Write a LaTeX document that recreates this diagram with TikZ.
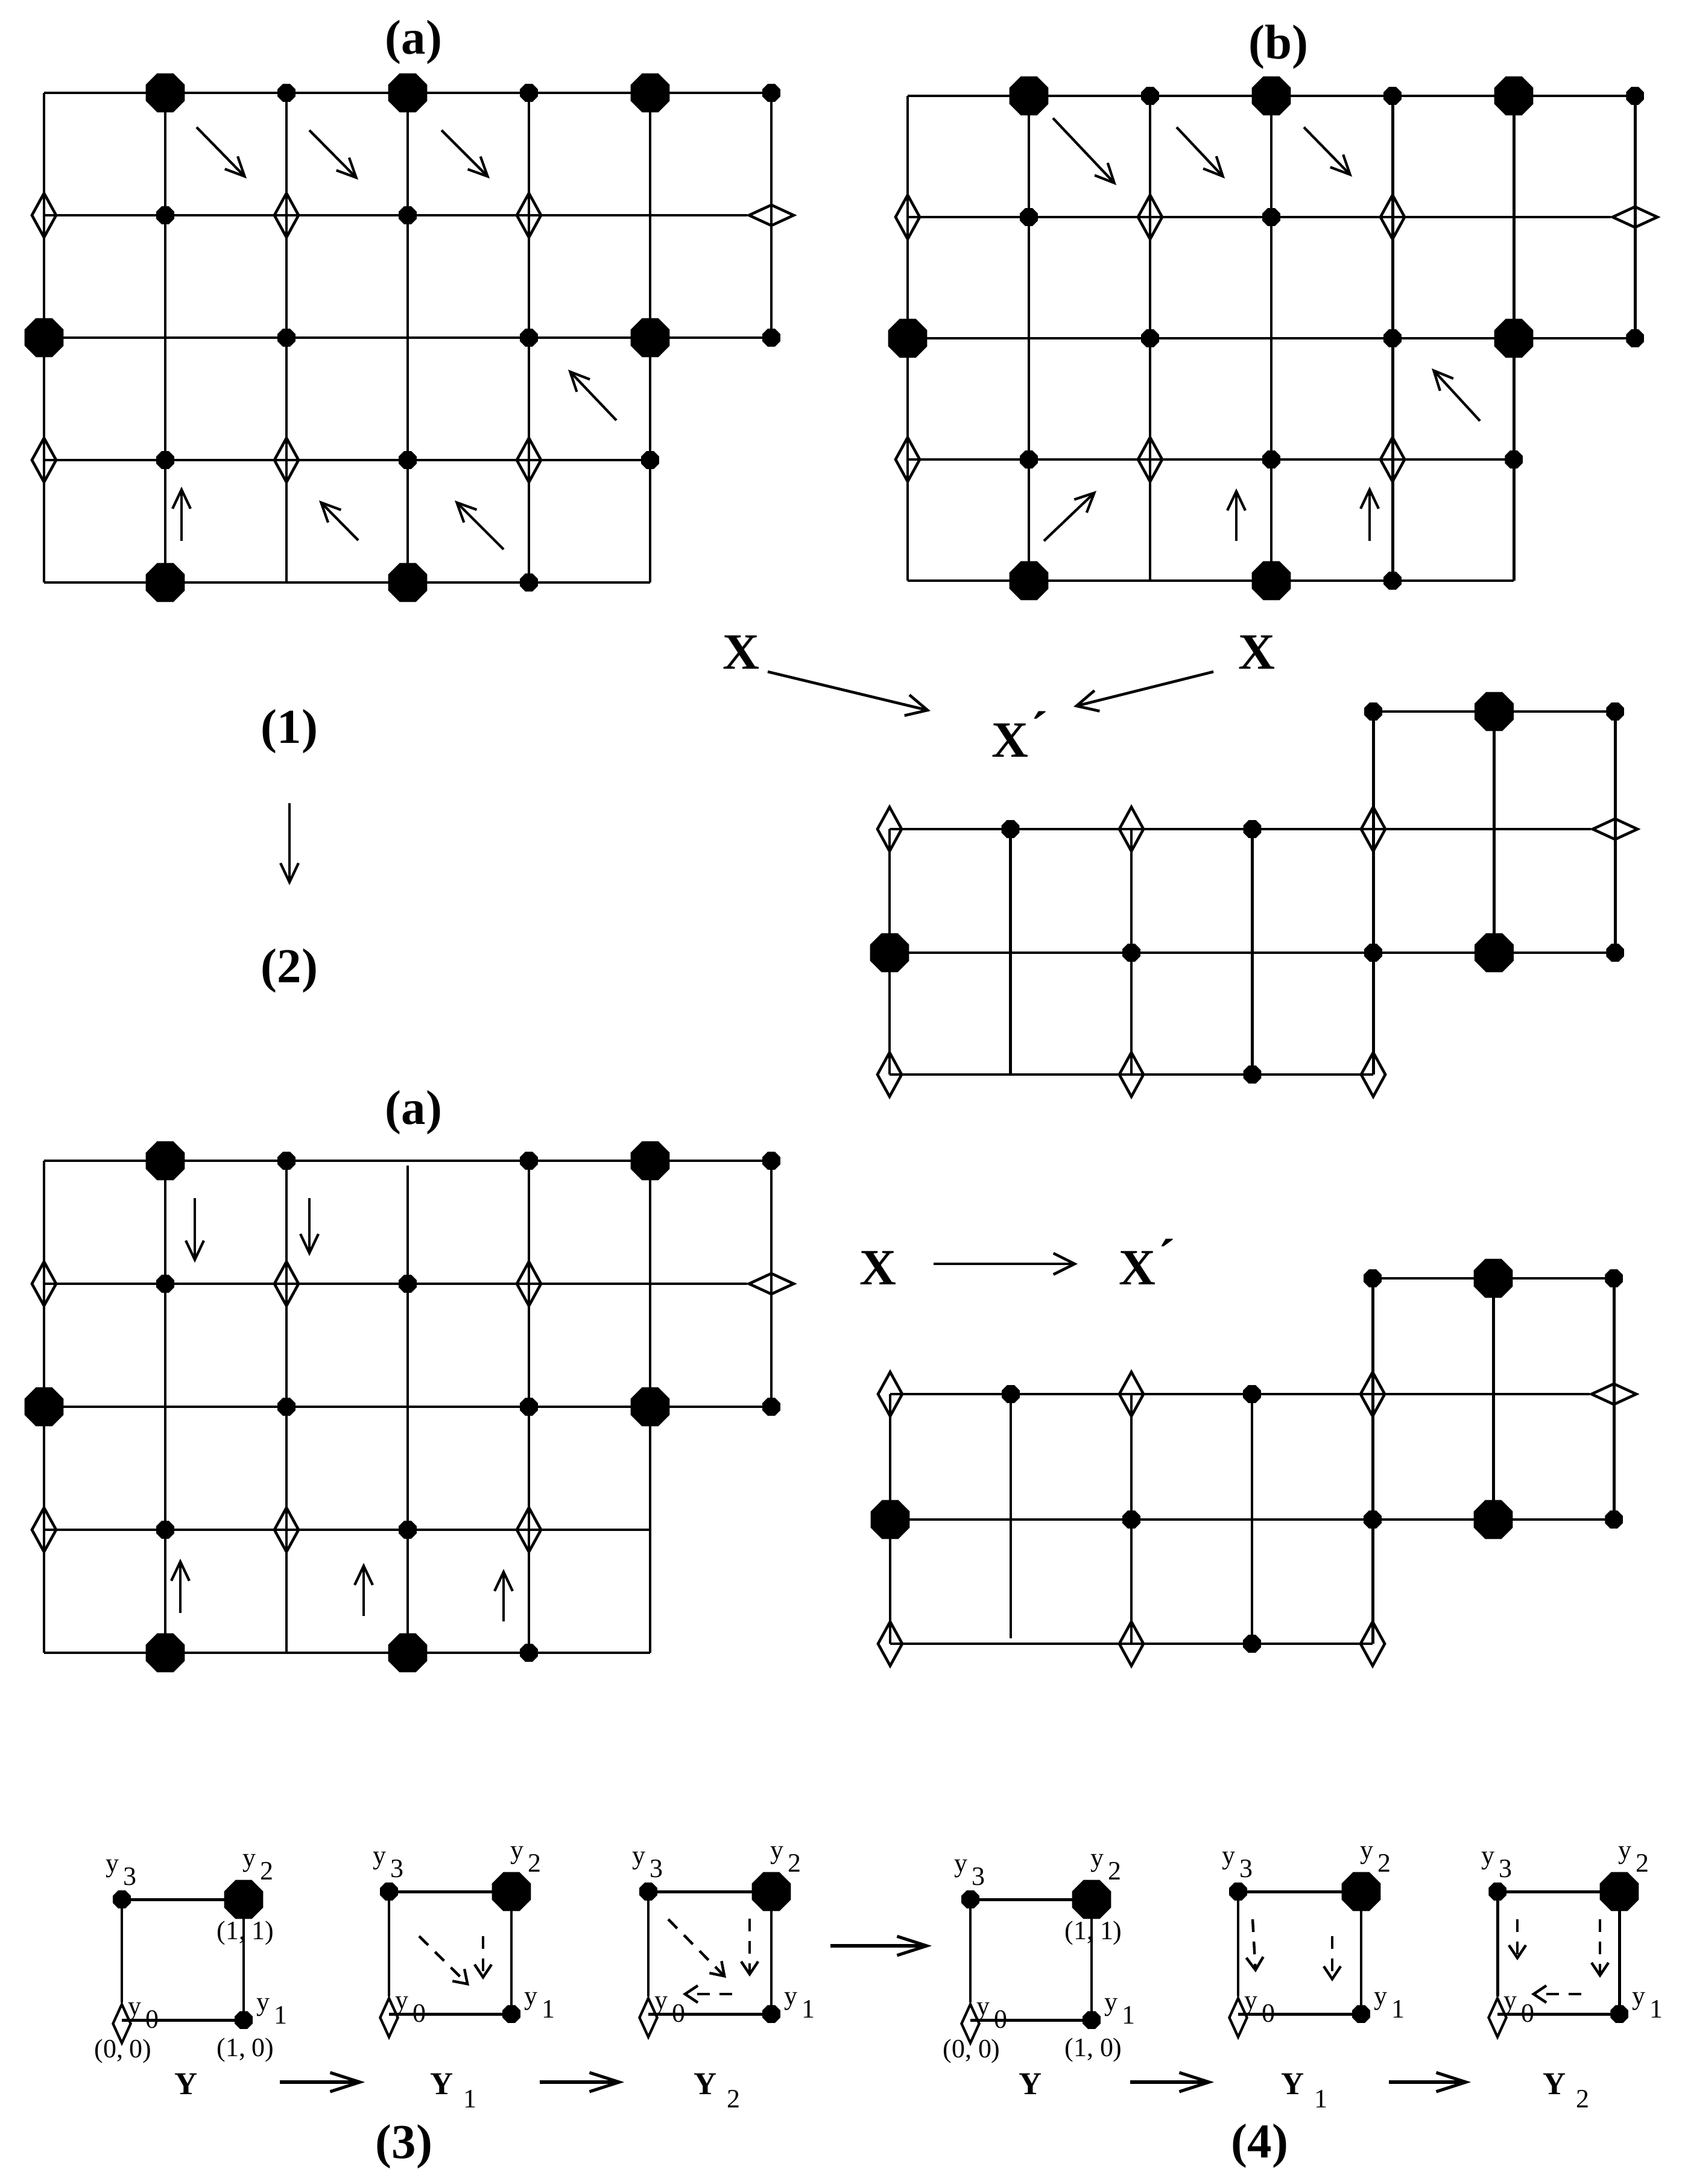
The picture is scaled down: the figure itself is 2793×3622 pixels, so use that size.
\documentclass[tikz,border=0pt]{standalone}
\usepackage{fontspec}
\setmainfont{Liberation Serif}
\usetikzlibrary{arrows.meta,shapes.geometric}
\newcommand{\ylab}[1]{y\kern2pt\raisebox{-6.5pt}{#1}}
\newcommand{\Ysub}[1]{{\fontsize{15}{18}\selectfont\bfseries Y}\kern4.8pt\raisebox{-6.3pt}{#1}}
\newcommand{\Xp}{X\kern1pt\raisebox{0.2em}{´}}
\tikzset{
 latline/.style={line width=1.4pt},
 bigdot/.style={regular polygon, regular polygon sides=8, fill=black, draw=none, inner sep=0pt, minimum size=0.70cm},
 smdot/.style={regular polygon, regular polygon sides=8, fill=black, draw=none, inner sep=0pt, minimum size=0.32cm},
 vdia/.style={diamond, draw=black, line width=1.3pt, inner sep=0pt, minimum width=0.42cm, minimum height=0.75cm},
 hdia/.style={diamond, draw=black, line width=1.3pt, inner sep=0pt, minimum width=0.76cm, minimum height=0.36cm},
 vdias/.style={diamond, draw=black, line width=1.2pt, inner sep=0pt, minimum width=0.31cm, minimum height=0.66cm},
 latarrow/.style={line width=1.2pt, -{Straight Barb[length=9pt,width=8.5pt]}},
 xarrow/.style={line width=1.3pt, -{Straight Barb[length=10pt,width=10pt]}},
 yarrow/.style={line width=1.45pt, -{Straight Barb[length=14pt,width=9pt]}},
 darrow/.style={line width=1.25pt, dash pattern=on 6pt off 4.5pt, -{Straight Barb[length=6pt,width=8pt]}},
 biglab/.style={font=\fontsize{23}{27}\selectfont\bfseries, inner sep=0pt},
 xlab/.style={font=\fontsize{24}{28}\selectfont\bfseries, inner sep=0pt},
 Ylab/.style={font=\fontsize{15}{18}\selectfont\bfseries, inner sep=0pt},
 smlab/.style={font=\fontsize{12.5}{15}\selectfont, inner sep=0pt},
}
\newcommand{\latmarks}[5]{%
  \foreach \p in {#2} {\node[bigdot] (m#1\p) at (#1\p) {};}
  \foreach \p in {#3} {\node[smdot] (m#1\p) at (#1\p) {};}
  \foreach \p in {#4} {\node[vdia] (m#1\p) at (#1\p) {};}
  \foreach \p in {#5} {\node[hdia] (m#1\p) at (#1\p) {};}
}
\newcommand{\toplines}[2]{%
  \draw[latline] (#100)--(#160) (#101)--(m#161.west) (#102)--(#162) (#103)--(#153) (#104)--(#154)
   (#110)--(#114) (#120)--(#124) (#140)--(#144) (#150)--(#154) (#160)--(#162);
  \draw[latline, shorten <=#2] (#100)--(#104) (#130)--(#134);
}
\newcommand{\midlines}[2]{%
  \draw[latline] (#140)--(#160) (#101)--(m#161.west) (#102)--(#162) (#103)--(#143)
   (#101)--(#103) (#121)--(#123) (#131)--(#133) (#140)--(#143) (#150)--(#152) (#160)--(#162);
  \draw[latline, shorten >=#2] (#111)--(#113);
}
\newcommand{\unitsq}[5]{%
  \node[smdot] (#1y3) at (#2,#4) {};
  \node[bigdot] (#1y2) at (#3,#4) {};
  \node[smdot] (#1y1) at (#3,#5) {};
  \node[vdias] (#1y0) at (#2,#5+6) {};
  \coordinate (#1bl) at (#2,#5);
  \draw[latline] (#1y3.center)--(#1y2.center)--(#1y1.center) (#1bl)--(#1y1.center) (#1y3.center)--(#1y0.north);
  \node[smlab, anchor=base west] (#1t3) at (#2-27,#4-46) {\ylab{3}};
  \node[smlab, anchor=base west] (#1t2) at (#3-2,#4-55) {\ylab{2}};
  \node[smlab, anchor=base west] (#1t0) at (#2+10,#5-9) {\ylab{0}};
  \node[smlab, anchor=base west] (#1t1) at (#3+21,#5-16) {\ylab{1}};
}
\newcommand{\coordlabs}[5]{%
  \node[smlab] (#1c11) at (#3+3,#4+56) {(1, 1)};
  \node[smlab] (#1c00) at (#2+2,#5+52) {(0, 0)};
  \node[smlab] (#1c10) at (#3+3,#5+50) {(1, 0)};
}
\begin{document}
\begin{tikzpicture}[x=0.01cm,y=-0.01cm]
\useasboundingbox (0,0) rectangle (2793,3622);
% grid coordinates
\foreach \c in {0,...,6}{\foreach \r in {0,...,4}{
  \coordinate (A\c\r) at ({73+201*\c},{154+203*\r});
  \coordinate (B\c\r) at ({1505+201*\c},{159+201*\r});
  \coordinate (C\c\r) at ({73+201*\c},{1925+204*\r});
}}
\foreach \c in {0,...,6}{\foreach \r/\yM/\yL in {0/1180/2120,1/1375/2312,2/1580/2520,3/1782/2726}{
  \coordinate (M\c\r) at ({1475+200.5*\c},\yM);
  \coordinate (L\c\r) at ({1476+200*\c},\yL);
}}
% top (a)
\latmarks{A}{10,30,50,02,52,14,34}{20,40,60,11,31,22,42,62,13,33,53,44}{01,21,41,03,23,43}{61}
\toplines{A}{0pt}
\draw[latarrow] (326,211)--(409,296);
\draw[latarrow] (513,216)--(594,298);
\draw[latarrow] (732,216)--(812,296);
\draw[latarrow] (1022,697)--(942,613);
\draw[latarrow] (301,897)--(301,807);
\draw[latarrow] (594,896)--(529,830);
\draw[latarrow] (835,911)--(754,830);
\node[biglab] (la) at (686,70) {(a)};
% top (b)
\latmarks{B}{10,30,50,02,52,14,34}{20,40,60,11,31,22,42,62,13,33,53,44}{01,21,41,03,23,43}{61}
\toplines{B}{0pt}
\draw[latarrow] (1746,196)--(1851,307);
\draw[latarrow] (1951,211)--(2031,296);
\draw[latarrow] (2162,211)--(2242,293);
\draw[latarrow] (2454,698)--(2374,611);
\draw[latarrow] (1731,897)--(1818,814);
\draw[latarrow] (2050,897)--(2050,810);
\draw[latarrow] (2271,897)--(2271,807);
\node[biglab] (lb) at (2120,78) {(b)};
% X, X' (middle)
\node[xlab, anchor=base] (XL) at (1229,1109) {X};
\node[xlab, anchor=base] (XR) at (2084,1109) {X};
\node[xlab, anchor=base west] (XP) at (1644,1255) {\Xp};
\coordinate (xa1) at (1273,1114); \coordinate (xa2) at (1543,1179);
\coordinate (xb1) at (2012,1114); \coordinate (xb2) at (1780,1172);
\draw[xarrow] (xa1)--(xa2);
\draw[xarrow] (xb1)--(xb2);
% middle lattice
\latmarks{M}{50,02,52}{40,60,11,31,22,42,62,33}{01,21,41,03,23,43}{61}
\midlines{M}{0pt}
% (1) -> (2)
\node[biglab] (l1) at (480,1213) {(1)};
\node[biglab] (l2) at (480,1610) {(2)};
\coordinate (d1) at (480,1332); \coordinate (d2) at (480,1468);
\draw[latarrow] (d1)--(d2);
% lower (a)
\latmarks{C}{10,50,02,52,14,34}{20,40,60,11,31,22,42,62,13,33,44}{01,21,41,03,23,43}{61}
\toplines{C}{2.3pt}
\draw[latarrow] (323,1987)--(323,2094);
\draw[latarrow] (513,1987)--(513,2083);
\draw[latarrow] (299,2675)--(299,2585);
\draw[latarrow] (603,2680)--(603,2592);
\draw[latarrow] (835,2689)--(835,2602);
\node[biglab] (la2) at (686,1845) {(a)};
% X -> X' (lower)
\node[xlab, anchor=base] (XL2) at (1456,2130) {X};
\node[xlab, anchor=base west] (XP2) at (1855,2130) {\Xp};
\coordinate (xc1) at (1548,2096); \coordinate (xc2) at (1787,2096);
\draw[xarrow] (xc1)--(xc2);
\latmarks{L}{50,02,52}{40,60,11,31,22,42,62,33}{01,21,41,03,23,43}{61}
\midlines{L}{2.5pt}
% bottom (3)
\unitsq{P}{202}{404}{3150}{3350}
\coordlabs{P}{202}{404}{3150}{3350}
\unitsq{Q}{645}{848}{3137}{3340}
\unitsq{R}{1075}{1279}{3137}{3340}
\draw[darrow] (695,3211)--(778,3293);
\draw[darrow] (801,3211)--(801,3283);
\draw[darrow] (1108,3183)--(1204,3280);
\draw[darrow] (1243,3182)--(1243,3278);
\draw[darrow] (1214,3307)--(1132,3307);
\node[Ylab, anchor=base] (PY) at (309,3473) {Y};
\node[smlab, anchor=base west] (QY) at (713,3473) {\Ysub{1}};
\node[smlab, anchor=base west] (RY) at (1150,3473) {\Ysub{2}};
\coordinate (ya1) at (464,3453); \coordinate (ya2) at (605,3453);
\coordinate (yb1) at (895,3453); \coordinate (yb2) at (1035,3453);
\draw[yarrow] (ya1)--(ya2);
\draw[yarrow] (yb1)--(yb2);
\node[biglab] (l3) at (670,3560) {(3)};
% connecting arrow
\coordinate (g1) at (1377,3227); \coordinate (g2) at (1545,3227);
\draw[yarrow] (g1)--(g2);
% bottom (4)
\unitsq{S}{1609}{1810}{3150}{3350}
\coordlabs{S}{1609}{1810}{3150}{3350}
\unitsq{T}{2053}{2257}{3137}{3340}
\unitsq{U}{2483}{2685}{3137}{3340}
\draw[darrow] (2077,3183)--(2082,3271);
\draw[darrow] (2209,3211)--(2209,3286);
\draw[darrow] (2516,3183)--(2516,3251);
\draw[darrow] (2653,3183)--(2653,3280);
\draw[darrow] (2622,3307)--(2539,3307);
\node[Ylab, anchor=base] (SY) at (1709,3473) {Y};
\node[smlab, anchor=base west] (TY) at (2124,3473) {\Ysub{1}};
\node[smlab, anchor=base west] (UY) at (2558,3473) {\Ysub{2}};
\coordinate (yc1) at (1874,3453); \coordinate (yc2) at (2013,3453);
\coordinate (yd1) at (2303,3453); \coordinate (yd2) at (2439,3453);
\draw[yarrow] (yc1)--(yc2);
\draw[yarrow] (yd1)--(yd2);
\node[biglab] (l4) at (2089,3559) {(4)};
\end{tikzpicture}
\end{document}
